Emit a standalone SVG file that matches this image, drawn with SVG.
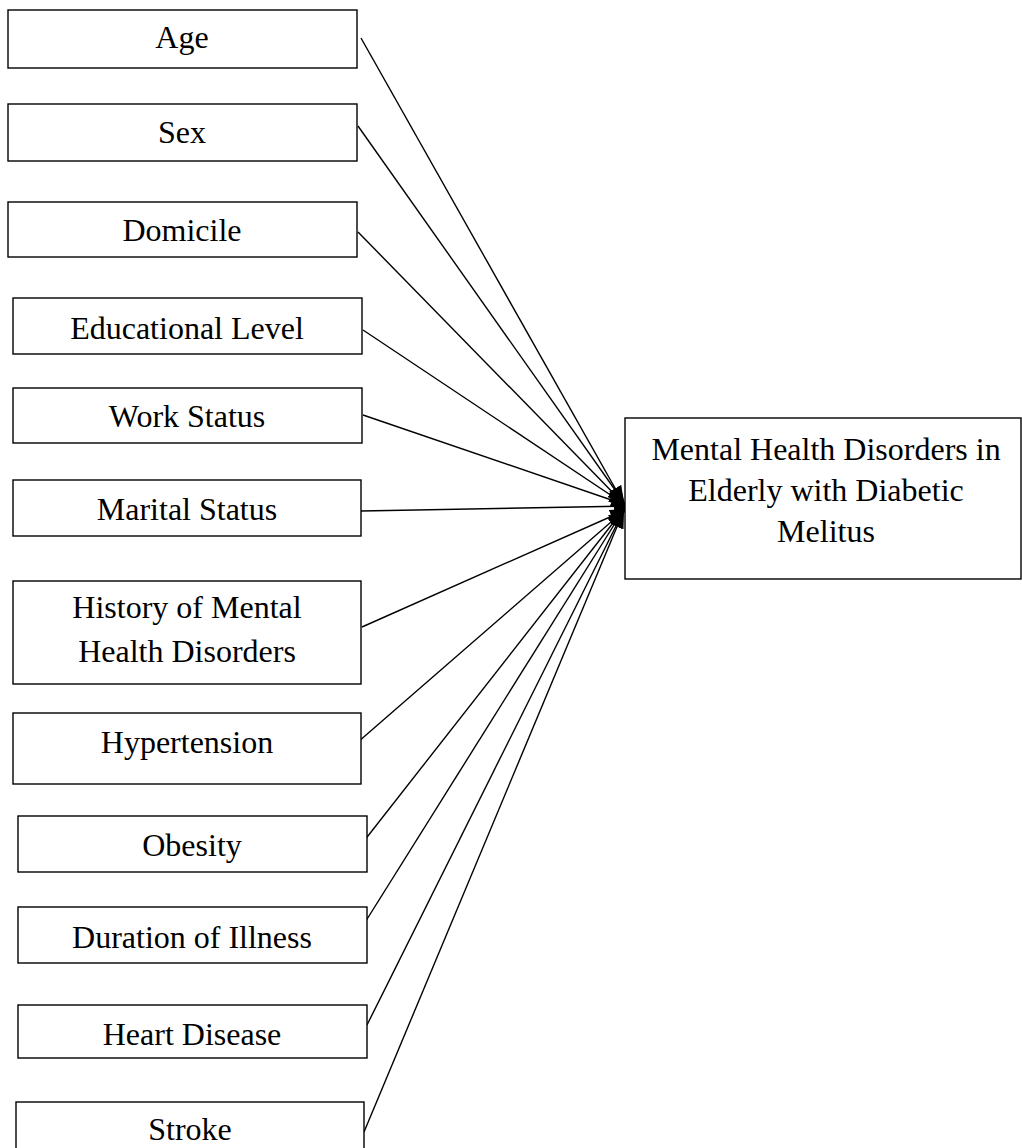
<svg xmlns="http://www.w3.org/2000/svg" width="1022" height="1148" viewBox="0 0 1022 1148">
<style>
.box{fill:#fff;stroke:#000;stroke-width:1.4}
.t{font-family:"Liberation Serif","Times New Roman",serif;font-size:32px;fill:#000;text-anchor:middle}
.c{stroke:#000;stroke-width:1.4;fill:none;marker-end:url(#ah)}
</style>
<defs>
<marker id="ah" markerUnits="userSpaceOnUse" markerWidth="20" markerHeight="16" refX="18" refY="7" orient="auto">
<path d="M0,0 L18,7 L0,14 Z" fill="#000"/>
</marker>
</defs>
<rect width="1022" height="1148" fill="#fff"/>
<g id="connectors">
<line class="c" x1="361" y1="38" x2="624" y2="504"/>
<line class="c" x1="358" y1="126" x2="625" y2="504"/>
<line class="c" x1="358" y1="232" x2="625" y2="505"/>
<line class="c" x1="363" y1="330" x2="627" y2="506"/>
<line class="c" x1="363" y1="415" x2="629" y2="506"/>
<line class="c" x1="361" y1="511" x2="632" y2="506"/>
<line class="c" x1="362" y1="627" x2="628" y2="509"/>
<line class="c" x1="358" y1="742" x2="626" y2="509"/>
<line class="c" x1="364" y1="841" x2="624" y2="509"/>
<line class="c" x1="364" y1="924" x2="624" y2="509"/>
<line class="c" x1="367" y1="1025" x2="624" y2="510"/>
<line class="c" x1="364" y1="1132" x2="624" y2="510"/>
</g>
<g id="n-age"><rect class="box" x="8" y="10" width="349" height="58"/><text class="t" x="182" y="48">Age</text></g>
<g id="n-sex"><rect class="box" x="8" y="104" width="349" height="57"/><text class="t" x="182" y="143">Sex</text></g>
<g id="n-domicile"><rect class="box" x="8" y="202" width="349" height="55"/><text class="t" x="182" y="241">Domicile</text></g>
<g id="n-edu"><rect class="box" x="13" y="298" width="349" height="56"/><text class="t" x="187" y="339">Educational Level</text></g>
<g id="n-work"><rect class="box" x="13" y="388" width="349" height="55"/><text class="t" x="187" y="427">Work Status</text></g>
<g id="n-marital"><rect class="box" x="13" y="480" width="348" height="56"/><text class="t" x="187" y="520">Marital Status</text></g>
<g id="n-history"><rect class="box" x="13" y="581" width="348" height="103"/><text class="t" x="187" y="618">History of Mental</text><text class="t" x="187" y="662">Health Disorders</text></g>
<g id="n-hyper"><rect class="box" x="13" y="713" width="348" height="71"/><text class="t" x="187" y="753">Hypertension</text></g>
<g id="n-obesity"><rect class="box" x="18" y="816" width="349" height="56"/><text class="t" x="192" y="856">Obesity</text></g>
<g id="n-duration"><rect class="box" x="18" y="907" width="349" height="56"/><text class="t" x="192" y="948">Duration of Illness</text></g>
<g id="n-heart"><rect class="box" x="18" y="1005" width="349" height="53"/><text class="t" x="192" y="1045">Heart Disease</text></g>
<g id="n-stroke"><rect class="box" x="16" y="1102" width="348" height="60"/><text class="t" x="190" y="1140">Stroke</text></g>
<g id="n-target"><rect class="box" x="625" y="418" width="396" height="161"/><text class="t" x="826" y="460">Mental Health Disorders in</text><text class="t" x="826" y="501">Elderly with Diabetic</text><text class="t" x="826" y="542">Melitus</text></g>
</svg>
